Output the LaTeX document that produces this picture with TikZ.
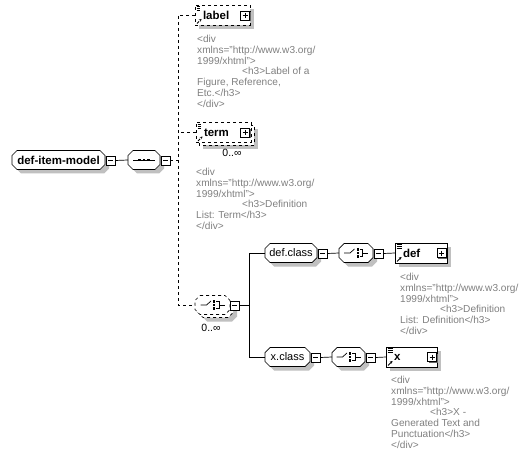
\documentclass[tikz,border=0pt]{standalone}
\usepackage{fontspec}
\setmainfont{Liberation Sans}
\usetikzlibrary{shadows,arrows.meta,backgrounds}
\definecolor{doctext}{RGB}{128,128,128}
\definecolor{shadecol}{RGB}{192,192,192}
% octagon outline round a named node, shifted by (#2,#3) in canvas lengths
\newcommand\octp[3]{([xshift=#2+5pt,yshift=#3]#1.north west) -- ([xshift=#2-5pt,yshift=#3]#1.north east) -- ([xshift=#2,yshift=#3-5pt]#1.north east) -- ([xshift=#2,yshift=#3+5pt]#1.south east) -- ([xshift=#2-5pt,yshift=#3]#1.south east) -- ([xshift=#2+5pt,yshift=#3]#1.south west) -- ([xshift=#2,yshift=#3+5pt]#1.south west) -- ([xshift=#2,yshift=#3-5pt]#1.north west) -- cycle}
\newcommand\octo[2][]{%
  \begin{scope}[on background layer]
    \fill[shadecol] \octp{#2}{4pt}{-4pt};
    \draw[octline,#1] \octp{#2}{0pt}{0pt};
  \end{scope}}
\newcommand\octomulti[2][]{%
  \begin{scope}[on background layer]
    \fill[shadecol] \octp{#2}{7pt}{-7pt};
    \draw[octline,#1] \octp{#2}{3pt}{-3pt};
    \draw[octline,#1] \octp{#2}{0pt}{0pt};
  \end{scope}}
\tikzset{
  shd/.style={drop shadow={shadow xshift=4pt,shadow yshift=-4pt,fill=shadecol,opacity=1}},
  octline/.style={fill=white, line width=0.7pt},
  grp/.style={rectangle, outer sep=0pt, inner sep=0pt, minimum height=19pt,
    font=\fontsize{11}{13}\selectfont},
  elembase/.style={rectangle, draw, fill=white, line width=0.7pt, minimum height=20pt,
    inner ysep=0pt, inner xsep=8pt, outer sep=0pt, align=left,
    font=\fontsize{11.5}{13}\selectfont\bfseries,
    path picture={
      \foreach \k in {0,1,2}
        \draw[line width=0.5pt] ([xshift=1.5pt,yshift=-1.5pt-2pt*\k]path picture bounding box.north west) -- ++(5pt,0pt);
      \draw[line width=1pt,-{Stealth[length=2.6pt,width=2.8pt]}]
        ([xshift=2pt,yshift=1.5pt]path picture bounding box.south west) -- ++(4.5pt,4.5pt);
    }},
  elem/.style={elembase, shd},
  backbox/.style={draw, dashed, fill=white, line width=0.7pt},
  pm/.style={rectangle, draw, fill=white, line width=0.7pt, minimum size=9pt, inner sep=0pt,
    drop shadow={shadow xshift=1pt,shadow yshift=-1pt,fill=black!60,opacity=1}},
  minusbox/.style={pm, path picture={
      \draw[line width=0.8pt] ([xshift=2pt]path picture bounding box.west) -- ([xshift=-2pt]path picture bounding box.east);}},
  plusbox/.style={pm, path picture={
      \draw[line width=0.8pt] ([xshift=2pt]path picture bounding box.west) -- ([xshift=-2pt]path picture bounding box.east);
      \draw[line width=0.8pt] ([yshift=-2pt]path picture bounding box.north) -- ([yshift=2pt]path picture bounding box.south);}},
  doc/.style={anchor=north west, inner sep=0pt, align=left, text=doctext,
    font=\fontsize{10.1}{10.8}\selectfont},
  card/.style={inner sep=0pt, font=\fontsize{10.5}{12}\selectfont},
  conn/.style={line width=0.7pt},
  seqicon/.pic={
    \draw[line width=0.8pt] (-11,0) -- (11,0);
    \foreach \dx in {-4.5,0,4.5} \fill (\dx-1.2,-1.2) rectangle (\dx+1.2,1.2);
  },
  choiceicon/.pic={
    \draw[line width=0.7pt] (-12,0) -- (-6,0) -- (-1.5,-4);
    \foreach \dy in {-3.5,0,3.5} \fill (0.5,\dy-1.2) rectangle (2.9,\dy+1.2);
    \draw[line width=0.7pt] (3.8,-3.5) -- (6.5,-3.5) -- (6.5,3.5) -- (3.8,3.5);
    \draw[line width=0.7pt] (6.5,0) -- (12,0);
  },
}
\begin{document}
\begin{tikzpicture}[x=1pt,y=-1pt]
\useasboundingbox (0,0) rectangle (527,457);
\begin{scope}[on background layer]
  \fill[white] (0,0) rectangle (527,457);
\end{scope}
\coordinate (vx) at (178,0);
\coordinate (bus) at (249,0);

% root
\node[grp, minimum width=93pt, font=\fontsize{11.5}{13}\selectfont\bfseries] (dim) at (58.5,160) {def-item-model};
\octo{dim}
\node[minusbox] (dimm) at (110.5,160.5) {};
\node[grp, minimum width=32pt] (seq) at (144,160) {};
\octo{seq}
\pic at (seq.center) {seqicon};
\node[minusbox] (seqm) at (165.5,160.5) {};

% label
\node[elem, text width=39pt, dashed] (label) at (222.5,15) {label};
\node[plusbox] (labelp) at (245,15.5) {};
\node[doc] (labeldoc) at (197,35) {<div\\xmlns="http://www.w3.org/\\1999/xhtml">\\\hspace*{45pt}<h3>Label of a\\Figure, Reference,\\Etc.</h3>\\</div>};

% term (optional, repeated)
\node[elembase, text width=39pt, dashed] (term) at (223.5,132.5) {term};
\begin{scope}[on background layer]
  \fill[shadecol] ([xshift=7pt,yshift=-7pt]term.north west) rectangle ([xshift=7pt,yshift=-7pt]term.south east);
  \draw[backbox] ([xshift=3pt,yshift=-3pt]term.north west) rectangle ([xshift=3pt,yshift=-3pt]term.south east);
\end{scope}
\node[plusbox] (termp) at (245,132.5) {};
\node[card] (termc) at (232,153) {0..∞};
\node[doc] (termdoc) at (196,168) {<div\\xmlns="http://www.w3.org/\\1999/xhtml">\\\hspace*{46pt}<h3>Definition\\List: Term</h3>\\</div>};

% optional repeated choice
\node[grp, minimum width=35pt] (ch1) at (212.5,305) {};
\octomulti[dashed]{ch1}
\pic at (ch1.center) {choiceicon};
\node[minusbox] (ch1m) at (234.5,305.5) {};
\node[card] (ch1c) at (211,328) {0..∞};

% def.class branch
\node[grp, minimum width=52pt] (defclass) at (291,253) {def.class};
\octo{defclass}
\node[minusbox] (defclassm) at (322.5,253.5) {};
\node[grp, minimum width=34pt] (ch2) at (356,253) {};
\octo{ch2}
\pic at (ch2.center) {choiceicon};
\node[minusbox] (ch2m) at (378.5,253.5) {};
\node[elem, text width=36pt] (def) at (421,253) {def};
\node[plusbox] (defp) at (441.5,253) {};
\node[doc] (defdoc) at (400,273) {<div\\xmlns="http://www.w3.org/\\1999/xhtml">\\\hspace*{40pt}<h3>Definition\\List: Definition</h3>\\</div>};

% x.class branch
\node[grp, minimum width=45pt] (xclass) at (287.5,357) {x.class};
\octo{xclass}
\node[minusbox] (xclassm) at (315.5,357.5) {};
\node[grp, minimum width=33pt] (ch3) at (348.5,357) {};
\octo{ch3}
\pic at (ch3.center) {choiceicon};
\node[minusbox] (ch3m) at (370.5,357.5) {};
\node[elem, text width=35pt] (x) at (411.5,357) {x};
\node[plusbox] (xp) at (432,357) {};
\node[doc] (xdoc) at (391,376) {<div\\xmlns="http://www.w3.org/\\1999/xhtml">\\\hspace*{39pt}<h3>X -\\Generated Text and\\Punctuation</h3>\\</div>};

% connectors
\draw[conn] (dimm.east) -- (seq.west);
\draw[conn, dashed] (seqm.east) -- (seqm.east -| vx);
\draw[conn, dashed] (label.west) -- (label.west -| vx) -- (ch1.west -| vx) -- (ch1.west);
\draw[conn, dashed] (term.west) -- (term.west -| vx);
\draw[conn] (ch1m.east) -- (ch1m.east -| bus);
\draw[conn] (defclass.west) -- (defclass.west -| bus) -- (xclass.west -| bus) -- (xclass.west);
\draw[conn] (defclassm.east) -- (ch2.west);
\draw[conn] (ch2m.east) -- (def.west);
\draw[conn] (xclassm.east) -- (ch3.west);
\draw[conn] (ch3m.east) -- (x.west);
\end{tikzpicture}
\end{document}
